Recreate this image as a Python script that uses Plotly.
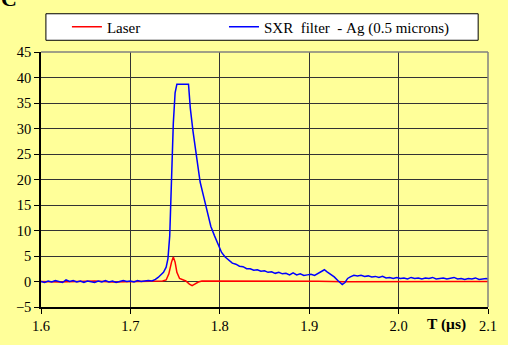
import plotly.graph_objects as go

# ---- data ----
blue_t = [1.600, 1.604, 1.608, 1.612, 1.616, 1.620, 1.624, 1.628, 1.632, 1.636, 1.640, 1.644, 1.648,
          1.652, 1.656, 1.660, 1.664, 1.668, 1.672, 1.676, 1.680, 1.684, 1.688, 1.692, 1.696, 1.700,
          1.704, 1.708, 1.712, 1.716, 1.720, 1.724, 1.728, 1.731, 1.734, 1.737, 1.740, 1.742, 1.744,
          1.746, 1.748, 1.750, 1.752, 1.765, 1.767, 1.770, 1.774, 1.778, 1.782, 1.786, 1.790, 1.794,
          1.798, 1.802, 1.806, 1.810, 1.814, 1.818, 1.822, 1.826, 1.830, 1.834, 1.838, 1.842, 1.846,
          1.850, 1.854, 1.858, 1.862, 1.866, 1.870, 1.874, 1.878, 1.882, 1.886, 1.890, 1.894, 1.898,
          1.902, 1.906, 1.910, 1.914, 1.917, 1.920, 1.924, 1.928, 1.932, 1.935, 1.937, 1.940, 1.943,
          1.946, 1.950, 1.954, 1.958, 1.962, 1.966, 1.970, 1.974, 1.978, 1.982, 1.986, 1.990, 1.994,
          1.998, 2.002, 2.006, 2.010, 2.014, 2.018, 2.022, 2.026, 2.030, 2.034, 2.038, 2.042, 2.046,
          2.050, 2.054, 2.058, 2.062, 2.066, 2.070, 2.074, 2.078, 2.082, 2.086, 2.090, 2.094, 2.098,
          2.100]
blue_v = [0.0, -0.2, 0.1, -0.1, 0.2, 0.0, -0.2, 0.3, 0.0, 0.2, -0.1, 0.1, -0.2,
          0.1, 0.0, -0.2, 0.1, -0.1, 0.2, -0.1, 0.1, -0.2, 0.0, 0.2, 0.0, 0.1,
          -0.1, 0.2, 0.0, 0.1, 0.2, 0.1, 0.4, 0.8, 1.3, 1.8, 2.8, 4.5, 9.0,
          20.0, 31.0, 37.0, 38.7, 38.7, 34.0, 29.5, 24.3, 19.5, 16.6, 13.5, 10.8, 9.0,
          7.2, 5.7, 4.8, 4.2, 3.6, 3.4, 3.0, 2.9, 2.5, 2.5, 2.2, 2.3, 2.0,
          2.1, 1.8, 1.9, 1.6, 1.8, 1.5, 1.6, 1.3, 1.7, 1.3, 1.5, 1.2, 1.3,
          1.4, 1.2, 1.6, 1.9, 2.3, 1.9, 1.4, 0.9, 0.2, -0.4, -0.6, -0.2, 0.6,
          0.9, 1.2, 1.1, 1.2, 1.0, 1.1, 0.9, 1.0, 0.8, 1.0, 0.7, 0.8, 0.6,
          0.8, 0.6, 0.7, 0.5, 0.8, 0.6, 0.7, 0.5, 0.7, 0.6, 0.8, 0.5, 0.6,
          0.7, 0.5, 0.6, 0.8, 0.5, 0.6, 0.4, 0.6, 0.5, 0.7, 0.4, 0.5, 0.6,
          0.5]

red_t = [1.600, 1.620, 1.640, 1.660, 1.680, 1.700, 1.720, 1.736, 1.740, 1.743, 1.746, 1.748,
         1.750, 1.752, 1.755, 1.758, 1.762, 1.766, 1.769, 1.772, 1.776, 1.780, 1.785, 1.790,
         1.820, 1.850, 1.880, 1.910, 1.940, 1.970, 2.000, 2.030, 2.060, 2.100]
red_v = [0.0, -0.1, 0.0, 0.1, -0.1, 0.0, 0.1, 0.1, 0.3, 1.5, 3.8, 4.8,
         3.8, 1.8, 0.6, 0.4, 0.1, -0.5, -0.8, -0.5, -0.1, 0.1, 0.1, 0.0,
         0.0, 0.05, 0.0, 0.05, -0.05, 0.0, 0.0, 0.05, 0.0, 0.0]

series_names = ["Laser", "SXR  filter  - Ag (0.5 microns)"]
x_ticks = [1.6, 1.7, 1.8, 1.9, 2.0, 2.1]
x_tick_labels = ["1.6", "1.7", "1.8", "1.9", "2.0", "2.1"]
y_ticks = [-5, 0, 5, 10, 15, 20, 25, 30, 35, 40, 45]

BG = "#FFFF99"
FONT = "Liberation Serif"
NB = "\u00a0"


def legend_name(s, pad=0):
    return s.replace(" ", NB) + NB * pad


fig = go.Figure()
fig.add_trace(go.Scatter(x=red_t, y=red_v, mode="lines", name=legend_name(series_names[0], 21),
                         line=dict(color="#FF0000", width=1.5)))
fig.add_trace(go.Scatter(x=blue_t, y=blue_v, mode="lines", name=legend_name(series_names[1]),
                         line=dict(color="#0000FF", width=1.5)))

fig.update_layout(
    width=508, height=345,
    margin=dict(l=41, r=11, t=49, b=36),
    paper_bgcolor=BG, plot_bgcolor=BG,
    font=dict(family=FONT, size=14.5, color="black"),
    showlegend=True,
    legend=dict(orientation="h", x=0.058, xanchor="left", y=1.098, yanchor="middle",
                bgcolor="rgba(0,0,0,0)", borderwidth=0, itemwidth=30,
                font=dict(family=FONT, size=15)),
    xaxis=dict(range=[1.6, 2.1], tickvals=x_ticks, ticktext=x_tick_labels,
               showgrid=True, gridcolor="#333333", gridwidth=1,
               showline=True, linecolor="black", linewidth=1.5,
               ticks="outside", ticklen=5, tickcolor="black", zeroline=False,
               tickfont=dict(family=FONT, size=14.5)),
    yaxis=dict(range=[-5, 45], tickvals=y_ticks,
               showgrid=True, gridcolor="#333333", gridwidth=1,
               showline=True, linecolor="black", linewidth=1.5,
               ticks="outside", ticklen=5, tickcolor="black", zeroline=False,
               tickfont=dict(family=FONT, size=14.5)),
    shapes=[
        dict(type="rect", xref="paper", yref="paper",
             x0=0.011, x1=0.978, y0=1.046, y1=1.15,
             line=dict(color="black", width=1), fillcolor="white", layer="below"),
        dict(type="line", xref="paper", yref="paper", x0=1, x1=1, y0=0, y1=1,
             line=dict(color="#808080", width=1.5)),
        dict(type="line", xref="paper", yref="paper", x0=0, x1=1, y0=1, y1=1,
             line=dict(color="#808080", width=1.5)),
    ],
    annotations=[
        dict(text="<b>T (μs)</b>", xref="paper", yref="paper", x=0.955, y=-0.065,
             xanchor="right", yanchor="middle", showarrow=False,
             font=dict(family=FONT, size=15.5)),
        dict(text="<b>C</b>", xref="paper", yref="paper", x=-0.095, y=1.21,
             xanchor="left", yanchor="middle", showarrow=False,
             font=dict(family=FONT, size=22)),
    ],
)

fig.write_html("out.html")
